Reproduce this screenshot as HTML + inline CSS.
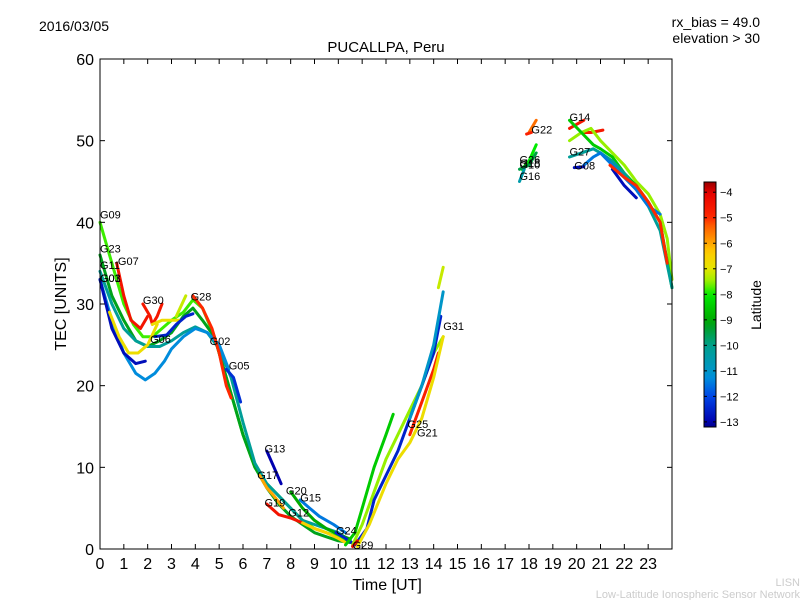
<!DOCTYPE html>
<html><head><meta charset="utf-8">
<style>
body{margin:0;background:#fff;}
svg{display:block;font-family:"Liberation Sans","DejaVu Sans",sans-serif;}
</style></head>
<body>
<svg id="chart" width="800" height="600" viewBox="0 0 800 600">
<rect width="800" height="600" fill="#fff"/>
<text x="39" y="31" font-size="14">2016/03/05</text>
<text x="760" y="27" font-size="14" text-anchor="end">rx_bias = 49.0</text>
<text x="760" y="43" font-size="14" text-anchor="end">elevation &gt; 30</text>
<text x="386" y="52" font-size="15" text-anchor="middle">PUCALLPA, Peru</text>
<text x="387" y="590" font-size="16" text-anchor="middle">Time [UT]</text>
<text transform="translate(66,304) rotate(-90)" font-size="16" text-anchor="middle">TEC [UNITS]</text>
<text x="800" y="586" font-size="11" fill="#ccc" text-anchor="end">LISN</text>
<text x="800" y="598" font-size="11" fill="#ccc" text-anchor="end">Low-Latitude Ionospheric Sensor Network</text>
<g id="tracks"></g>
<g id="labels"></g>
<g id="axes"></g>
<g id="cbar"></g>
</svg>
<script>
const xTicks=[0,1,2,3,4,5,6,7,8,9,10,11,12,13,14,15,16,17,18,19,20,21,22,23];
const yTicks=[0,10,20,30,40,50,60];
const cbTicks=[-4,-5,-6,-7,-8,-9,-10,-11,-12,-13];
const trackLats=[-7.8,-9.2,-10.2,-11.3,-12.8,-6.8,-4.5,-4.6,-6.8,-7.2,-12.5,-5,-12.3,-13,-6,-4.5,-6.5,-11.5,-9,-12.5,-8.5,-7.5,-12.5,-11,-7.2,-4.8,-6.8,-4.3,-5.5,-4.8,-8,-9.5,-10.5,-4.6,-4.6,-7.5,-8.5,-10.2,-11.5,-12.8,-12.8,-5];
const trackTimes=[
[0,0.5,1,1.4,1.8,2.2,2.6,3,3.5,3.9,4.3,4.8,5.2,5.6,6,6.5,7,7.5,8,8.5,9,9.5,10,10.3],
[0,0.5,1,1.5,2,2.5,3,3.5,3.9,4.3,4.8,5.2,5.6,6,6.5,7,7.5,8,8.5,9,9.5,10,10.5],
[0,0.5,1,1.5,2,2.5,3,3.5,4,4.5,5,5.5,6,6.5,7,7.5,8,8.5,9,9.5,10,10.5],
[0,0.5,1,1.5,1.9,2.3,2.7,3,3.5,4,4.5,5,5.4],
[0,0.5,1,1.5,1.9],
[0.4,0.8,1.2,1.6,2,2.4],
[0.7,1,1.3,1.7,2],
[1.8,2.1,2.2,2.4,2.6],
[2.2,2.6,3,3.4],
[3.2,3.6],
[2.3,2.8,3.2,3.6,3.9],
[3.9,4.3,4.7,5,5.3,5.5],
[5.3,5.6,5.9],
[7,7.3,7.6],
[6.7,7,7.3,7.7],
[7,7.5,8,8.5],
[8.5,9,9.5,10,10.3],
[8.4,8.8,9.2,9.8,10.3],
[8,8.5,9,9.5,10,10.5],
[9.9,10.3,10.7],
[10.3,10.7,11,11.5,12,12.3],
[10.6,11,11.5,12,12.5,13,13.5,14,14.4],
[10.7,11.2,11.5,12,12.5,13,13.5,14,14.3],
[13,13.5,14,14.4],
[14.2,14.4],
[13,13.5,14,14.2],
[10.8,11.3,12,12.5,13,13.5,14,14.4],
[10.6,10.8],
[18,18.3],
[17.9,18.1],
[17.7,18,18.3],
[17.6,18,18.3],
[17.6,17.8],
[19.7,20,20.3],
[20.2,20.6,21.1],
[19.7,20.2,20.6,21,21.5,22,22.5,23,23.5,23.8,24],
[19.7,20.2,20.7,21,21.5,22,22.5,23,23.5,24],
[19.7,20.2,20.7,21,21.5,22,22.5,23,23.5,24],
[20.3,20.7,21,21.5,22,22.5,23,23.5],
[19.9,20.3],
[21.5,22,22.5],
[21.4,22,22.5,23,23.5,23.8]];
const trackTec=[
[40,35,30,27.5,26,26,27,28,29,30.5,29.5,26,22,18,14,10,8,6.5,5,3.5,2.5,2,1.5,1],
[36,31,28,25.5,24.8,25.5,26.5,28.5,29.5,28,26,22,18,14,10,7.5,5.5,4,3,2,1.5,1,0.8],
[34,30,27,25.5,24.8,24.8,25.5,26.5,27.2,26.5,24.5,21,15.5,10.5,8,6.5,5,3.5,3,2.5,2,1],
[33,28,24,21.5,20.7,21.5,23,24.5,26,27,26.5,25,22],
[33,27,24,22.7,23],
[29,26,24,24,25,27.5],
[35,31,28,27,28.5],
[30,28.5,27.5,28.5,30],
[27.5,28,28,28],
[28.5,31],
[26,26.2,27.5,28.5,28.8],
[31,29.5,27,24,20,18.5],
[22,21,18],
[12,10,8],
[9,7.5,6.5,5],
[5.5,4.2,3.8,3.2],
[3.2,2.5,2,1.3,0.8],
[6,5,4,3,2],
[7,5,3.5,2.5,1.8,1.2],
[2,1.3,0.5],
[0.5,2,5,10,14,16.5],
[0.5,3,7,11,14,17,20,24,26],
[0.5,2.5,6,9,12,16,20,24,28.5],
[16,20,25,31.5],
[32,34.5],
[14,18,22,24],
[0.3,3,8,11,13,16,21,26],
[0.3,1],
[51,52.5],
[50.8,51],
[46.5,47.5,49.5],
[46.5,47,48.5],
[45,46.5],
[51.5,52,52.5],
[51,51,51.3],
[50,51,51.5,50,48.5,47,45,43.5,41,38,33],
[52.5,51,49.5,49,48,46,44.5,42.5,40,32],
[48,48.5,49,48.5,47.5,46,44,42,39,32],
[47,48,48.5,47,45.5,44,42,41],
[46.7,46.8],
[46.5,44.5,43],
[47,45.5,44.5,42.5,40,35]];
const labelNames=["G09","G23","G11","G07","G03","G01","G30","G06","G28","G02","G05","G13","G17","G20","G19","G15","G12","G24","G29","G31","G25","G21","G22","G26","G18","G10","G16","G14","G27","G08"];
const labelTimes=[0,0,0,0.75,0,0,1.8,2.1,3.8,4.6,5.4,6.9,6.6,7.8,6.9,8.4,7.9,9.9,10.6,14.4,12.9,13.3,18.1,17.6,17.6,17.6,17.6,19.7,19.7,19.9];
const labelTec=[40.5,36.3,34.3,34.8,32.7,32.7,30,25.2,30.4,25,22,11.8,8.6,6.7,5.2,5.8,4,1.8,0,26.8,14.8,13.8,50.9,47.2,46.8,46.6,45.2,52.4,48.2,46.5];

const NS="http://www.w3.org/2000/svg";
const X0=100,X1=672,Y0=549,Y1=59;
function xs(h){return X0+h*(X1-X0)/24;}
function ys(v){return Y0-v*(Y0-Y1)/60;}
const CB_TOP=182,CB_BOT=427,CB_MAX=-3.6,CB_MIN=-13.2;
function cy(v){return CB_TOP+(CB_MAX-v)*(CB_BOT-CB_TOP)/(CB_MAX-CB_MIN);}
// custom colormap stops: [latitude, r, g, b]
const cmap=[[-13.2,0,0,140],[-13,0,0,175],[-12,0,70,230],[-11.3,0,140,220],[-11,0,150,200],[-10,0,160,140],[-9.3,0,160,40],[-9,0,170,0],[-8,0,235,0],[-7.5,150,240,0],[-7,230,230,0],[-6.3,255,200,0],[-6,255,165,0],[-5.3,255,90,0],[-5,255,40,0],[-4,230,0,0],[-3.6,150,0,0]];
function latColor(l){
 if(l<=cmap[0][0])return `rgb(${cmap[0][1]},${cmap[0][2]},${cmap[0][3]})`;
 for(let i=1;i<cmap.length;i++){
  if(l<=cmap[i][0]){const a=cmap[i-1],b=cmap[i],t=(l-a[0])/(b[0]-a[0]);
   return `rgb(${Math.round(a[1]+t*(b[1]-a[1]))},${Math.round(a[2]+t*(b[2]-a[2]))},${Math.round(a[3]+t*(b[3]-a[3]))})`;}
 }
 const c=cmap[cmap.length-1];return `rgb(${c[1]},${c[2]},${c[3]})`;
}
function mk(tag,attrs,parent){const e=document.createElementNS(NS,tag);for(const k in attrs)e.setAttribute(k,attrs[k]);parent.appendChild(e);return e;}

const gT=document.getElementById('tracks');
trackTimes.forEach((ts,i)=>{
 const pts=ts.map((t,j)=>xs(t).toFixed(1)+","+ys(trackTec[i][j]).toFixed(1)).join(" ");
 const p=mk('polyline',{points:pts,fill:'none',stroke:latColor(trackLats[i]),'stroke-width':3,'stroke-linejoin':'round','stroke-linecap':'round'},gT);
 
 
});
const gL=document.getElementById('labels');
labelNames.forEach((n,i)=>{
 const t=mk('text',{x:xs(labelTimes[i]).toFixed(1),y:ys(labelTec[i]).toFixed(1),'font-size':11},gL);
 t.textContent=n;
 
 
});
const gA=document.getElementById('axes');
const fr=mk('rect',{x:X0,y:Y1,width:X1-X0,height:Y0-Y1,fill:'none',stroke:'#000','stroke-width':1},gA);


xTicks.forEach(h=>{
 const x=xs(h);
 mk('line',{x1:x,y1:Y0,x2:x,y2:Y0-5,stroke:'#000'},gA);
 mk('line',{x1:x,y1:Y1,x2:x,y2:Y1+5,stroke:'#000'},gA);
 const t=mk('text',{x:x,y:569,'font-size':16,'text-anchor':'middle'},gA);
 t.textContent=h;
 
 
});
yTicks.forEach(v=>{
 const y=ys(v);
 mk('line',{x1:X0,y1:y,x2:X0+5,y2:y,stroke:'#000'},gA);
 mk('line',{x1:X1,y1:y,x2:X1-5,y2:y,stroke:'#000'},gA);
 const t=mk('text',{x:94,y:y+6,'font-size':16,'text-anchor':'end'},gA);
 t.textContent=v;
 
 
});
const gC=document.getElementById('cbar');
const defs=mk('defs',{},gC);
const grad=mk('linearGradient',{id:'cmapg',x1:0,y1:1,x2:0,y2:0},defs);
for(let i=0;i<=40;i++){const l=CB_MIN+(CB_MAX-CB_MIN)*i/40;mk('stop',{offset:(i/40),'stop-color':latColor(l)},grad);}
const cb=mk('rect',{x:704,y:CB_TOP,width:12,height:CB_BOT-CB_TOP,fill:'url(#cmapg)',stroke:'#000','stroke-width':1},gC);


cbTicks.forEach(v=>{
 const y=cy(v);
 mk('line',{x1:704,y1:y,x2:707,y2:y,stroke:'#000'},gC);
 mk('line',{x1:716,y1:y,x2:713,y2:y,stroke:'#000'},gC);
 const t=mk('text',{x:720,y:y+4,'font-size':11},gC);
 t.textContent='\u2212'+Math.abs(v);
 
 
});
const ct=mk('text',{transform:'translate(761,305) rotate(-90)','font-size':14,'text-anchor':'middle'},gC);
ct.textContent='Latitude';


</script>
</body></html>
